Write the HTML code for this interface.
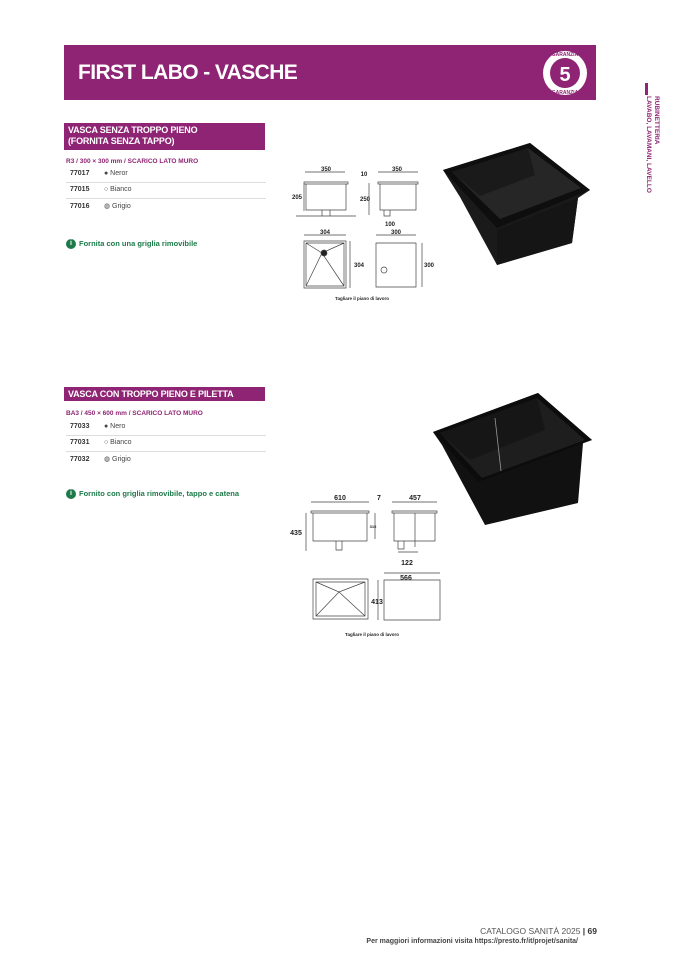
<!DOCTYPE html>
<html><head><meta charset="utf-8"><style>
body{margin:0;background:#fff;width:678px;height:959px;position:relative;overflow:hidden;font-family:"Liberation Sans",sans-serif}
.a{position:absolute;white-space:nowrap}
.hdr{background:#8e2473;color:#fff;font-weight:bold}
.sub{color:#8e2473;font-weight:bold;font-size:6.5px}
.row{font-size:7px;color:#444;position:absolute;left:66px;width:200px;height:16px;line-height:16px}
.row b{color:#333;display:inline-block;width:34px;margin-left:4px}
.ln{position:absolute;left:66px;width:200px;height:1px;background:#ddd}
.inf{color:#1d7a4a;font-weight:bold;font-size:7.5px}
.dot{display:inline-block;width:10px;height:10px;border-radius:50%;background:#1d7a4a;color:#fff;font-size:7px;text-align:center;line-height:10px;vertical-align:middle;margin-right:3px}
svg text{font-family:"Liberation Sans",sans-serif;font-weight:bold}
</style></head><body>
<div class="a hdr" style="left:64px;top:45px;width:532px;height:55px"></div>
<div class="a" style="left:78px;top:61px;color:#fff;font-weight:bold;font-size:21px;letter-spacing:-0.6px">FIRST LABO - VASCHE</div>
<svg class="a" style="left:538px;top:47px" width="54" height="52"><circle cx="27" cy="26" r="22" fill="#fff"/><circle cx="27" cy="26" r="15" fill="#8e2473"/><text x="27" y="34" fill="#fff" font-size="20" text-anchor="middle">5</text><text x="27" y="9" fill="#8e2473" font-size="5" text-anchor="middle">GARANZIA</text><text x="27" y="47" fill="#8e2473" font-size="5" text-anchor="middle">GARANZIA</text></svg>
<div class="a" style="left:645px;top:83px;width:3px;height:12px;background:#8e2473"></div>
<div class="a" style="left:644px;top:96px;writing-mode:vertical-rl;font-size:6.5px;font-weight:bold;color:#8e2473;line-height:8px">RUBINETTERIA<br>LAVABO, LAVAMANI, LAVELLO</div>

<div class="a hdr" style="left:64px;top:123px;width:201px;height:27px;font-size:9px;line-height:11px;padding:2px 0 0 4px;box-sizing:border-box;letter-spacing:-0.2px">VASCA SENZA TROPPO PIENO<br>(FORNITA SENZA TAPPO)</div>
<div class="a sub" style="left:66px;top:158px">R3 / 300 × 300 mm / SCARICO LATO MURO</div>
<div class="row" style="top:166px"><b>77017</b>● Neror</div><div class="ln" style="top:182px"></div>
<div class="row" style="top:182px"><b>77015</b>○ Bianco</div><div class="ln" style="top:198px"></div>
<div class="row" style="top:199px"><b>77016</b>◍ Grigio</div>
<div class="a inf" style="left:66px;top:239px"><span class="dot">i</span>Fornita con una griglia rimovibile</div>

<div class="a hdr" style="left:64px;top:387px;width:201px;height:14px;font-size:9px;line-height:14px;padding-left:4px;box-sizing:border-box;letter-spacing:-0.2px">VASCA CON TROPPO PIENO E PILETTA</div>
<div class="a sub" style="left:66px;top:410px">BA3 / 450 × 600 mm / SCARICO LATO MURO</div>
<div class="row" style="top:419px"><b>77033</b>● Nero</div><div class="ln" style="top:435px"></div>
<div class="row" style="top:435px"><b>77031</b>○ Bianco</div><div class="ln" style="top:451px"></div>
<div class="row" style="top:452px"><b>77032</b>◍ Grigio</div>
<div class="a inf" style="left:66px;top:489px"><span class="dot">i</span>Fornito con griglia rimovibile, tappo e catena</div>

<svg class="a" style="left:0;top:0" width="678" height="959" fill="none" stroke="#444" stroke-width="0.7">
<path d="M306 184h40v26h-40zM304 182h44v2h-44zM322 210v6h8v-6M305 172h40M380 184h36v26h-36zM378 182h40v2h-40zM384 210v6h6v-6M378 172h40M369 183v32M304 183v28M296 216h60"/>
<path d="M304 241h42v47h-42zM306 243h38v43h-38zM306 243l16 10 22-10M322 253l-16 33M322 253l22 33M304 235h42M350 241v47M376 243h40v44h-40zM376 235h40M422 243v44"/>
<circle cx="324" cy="253" r="3" fill="#222"/><circle cx="384" cy="270" r="3"/>
<path d="M313 513h54v28h-54zM311 511h58v2h-58zM336 541v9h6v-9M311 502h58M306 513v38M375 513v26M394 513h41v28h-41zM392 511h45v2h-45zM398 541v8h6v-8M392 502h45M415 513v34M398 552h20"/>
<path d="M313 579h55v40h-55zM316 582h49v34h-49zM316 582l23 10 26-10M339 592l-23 24M339 592l26 24M384 580h56v40h-56zM384 573h56M378 580v40"/>
</svg>
<svg class="a" style="left:0;top:0" width="678" height="959">
<g font-size="6" fill="#222" text-anchor="middle">
<text x="326" y="171">350</text><text x="364" y="176">10</text><text x="397" y="171">350</text>
<text x="297" y="199">205</text><text x="365" y="201">250</text><text x="390" y="226">100</text>
<text x="325" y="234">304</text><text x="359" y="267">304</text><text x="396" y="234">300</text><text x="429" y="267">300</text>
<text x="362" y="300" font-size="4.5" font-weight="normal">Tagliare il piano di lavoro</text>
<text x="340" y="500" font-size="7">610</text><text x="379" y="500" font-size="7">7</text><text x="415" y="500" font-size="7">457</text>
<text x="296" y="535" font-size="7">435</text><text x="373" y="528" font-size="4">310</text><text x="407" y="565" font-size="7">122</text>
<text x="406" y="580" font-size="7">566</text><text x="377" y="604" font-size="7">413</text>
<text x="372" y="636" font-size="4.5" font-weight="normal">Tagliare il piano di lavoro</text>
</g>
<!-- sink1 -->
<polygon points="443,170 530,143 590,190 578,198 572,243 497,265 460,197" fill="#1a1a1a"/>
<polygon points="497,230 578,198 572,243 497,265" fill="#151515"/>
<polygon points="443,170 530,143 590,190 497,228" fill="#0e0e0e"/>
<polygon points="452,172 528,148 581,188 500,219" fill="#262626"/>
<polygon points="452,172 528,148 535,175 480,196" fill="#1a1a1a"/>
<!-- sink2 -->
<polygon points="433,432 538,393 592,440 583,443 578,503 485,525 442,445" fill="#111"/>
<polygon points="433,432 538,393 592,440 478,482" fill="#0c0c0c"/>
<polygon points="440,433 537,398 585,440 482,478" fill="#1e1e1e"/>
<polygon points="440,433 537,398 545,430 470,460" fill="#161616"/>
<line x1="495" y1="418" x2="501" y2="471" stroke="#999" stroke-width="0.8"/>
</svg>

<div class="a" style="right:81px;top:926px;font-size:8.5px;color:#555">CATALOGO SANITÀ 2025 <b style="color:#333">| 69</b></div>
<div class="a" style="right:100px;top:938px;font-size:7px;color:#444;font-weight:bold">Per maggiori informazioni visita https://presto.fr/it/projet/sanita/</div>
</body></html>
